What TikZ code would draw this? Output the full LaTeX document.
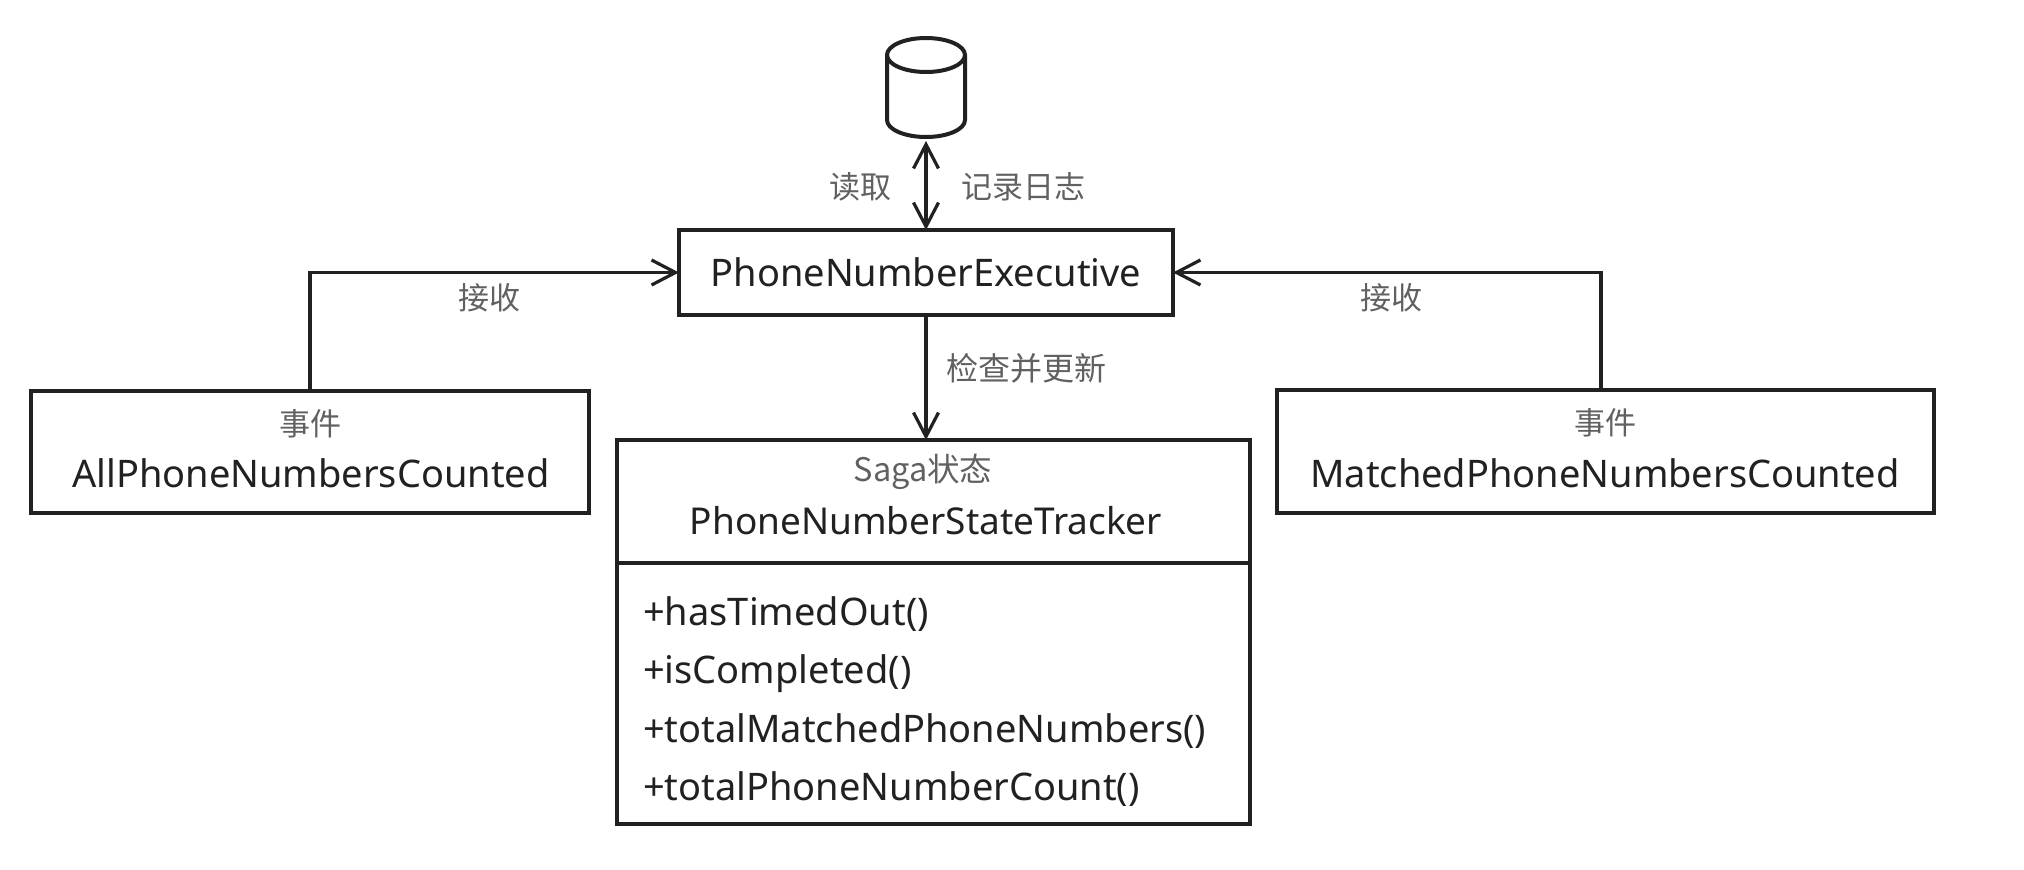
\documentclass[tikz,border=0pt]{standalone}
\usepackage{fontspec}
\setmainfont{Noto Sans}
\newfontfamily\cjk{Noto Sans CJK SC}
\usetikzlibrary{arrows.meta}
\definecolor{ink}{gray}{0.13}
\definecolor{lbl}{gray}{0.38}
\tikzset{
  x=1pt,y=-1pt,
  ln/.style={line width=3.2pt,draw=ink},
  arr/.style={ln,-{Straight Barb[length=24pt,width=25pt,line width=3.2pt]}},
  darr/.style={ln,{Straight Barb[length=24pt,width=25pt,line width=3.2pt]}-{Straight Barb[length=24pt,width=25pt,line width=3.2pt]}},
  boxn/.style={draw=ink,line width=4.2pt,inner sep=0pt,outer sep=0pt,fill=white,anchor=north west},
  nm/.style={font=\fontsize{38pt}{42pt}\selectfont,text=ink,inner sep=0pt},
  mth/.style={nm,anchor=west},
  zh/.style={font=\fontsize{31pt}{33pt}\selectfont\cjk,text=lbl,inner sep=0pt},
}
\begin{document}
\begin{tikzpicture}
\useasboundingbox (0,0) rectangle (2024,870);
\fill[white] (0,0) rectangle (2024,870);
% boxes
\node[boxn,minimum width=494pt,minimum height=85pt,font=\fontsize{38pt}{42pt}\selectfont,text=ink] (exec) at (679,230) {PhoneNumberExecutive};
\node[boxn,minimum width=558pt,minimum height=122pt] (all) at (31,391) {};
\node[boxn,minimum width=657pt,minimum height=123pt] (match) at (1277,390) {};
\node[boxn,minimum width=633pt,minimum height=123pt] (trk) at (617,440) {};
\node[boxn,minimum width=633pt,minimum height=261pt] (mth) at (617,563) {};
% database: an empty node gives the connector its anchor, the drum is drawn on it
\node[minimum width=78pt,minimum height=99pt,inner sep=0pt,outer sep=0pt] (db) at (926,87.5) {};
\draw[draw=ink,line width=4pt,fill=white]
  (887,55) -- (887,120) .. controls (887,129.4) and (904.5,137) .. (926,137)
  .. controls (947.5,137) and (965,129.4) .. (965,120) -- (965,55)
  .. controls (965,45.6) and (947.5,38) .. (926,38)
  .. controls (904.5,38) and (887,45.6) .. (887,55) -- cycle;
\draw[draw=ink,line width=4pt]
  (887,55) .. controls (887,64.4) and (904.5,72) .. (926,72)
  .. controls (947.5,72) and (965,64.4) .. (965,55);
% connectors
\draw[darr,shorten <=4pt] (db.south) -- (db.south |- exec.north);
\draw[arr] (db.south |- exec.south) -- (db.south |- trk.north);
\draw[arr] (all.north) |- (exec.west);
\coordinate (mtop) at ([xshift=-4.5pt]match.north);
\draw[arr] (mtop) |- (exec.east);
% box texts
\node[zh] (allz) at (310,424) {事件};
\node[nm] (allt) at (311,473) {AllPhoneNumbersCounted};
\node[zh] (matz) at (1605,423) {事件};
\node[nm] (matt) at (1605,473) {MatchedPhoneNumbersCounted};
\node[zh,font=\fontsize{32.5pt}{34pt}\selectfont\cjk] (trkz) at (923,472) {Saga状态};
\node[nm,font=\fontsize{37pt}{42pt}\selectfont] (trkt) at (926,521) {PhoneNumberStateTracker};
\node[mth] (m1) at (643,614) {+hasTimedOut()};
\node[mth] (m2) at (643,674) {+isCompleted()};
\node[mth] (m3) at (643,731) {+totalMatchedPhoneNumbers()};
\node[mth] (m4) at (643,789) {+totalPhoneNumberCount()};
% labels
\node[zh] (l1) at (860,187) {读取};
\node[zh] (l2) at (1023,187) {记录日志};
\node[zh] (l3) at (489,298) {接收};
\node[zh] (l4) at (1391,298) {接收};
\node[zh,font=\fontsize{32pt}{34pt}\selectfont\cjk] (l5) at (1026,368) {检查并更新};
\end{tikzpicture}
\end{document}
